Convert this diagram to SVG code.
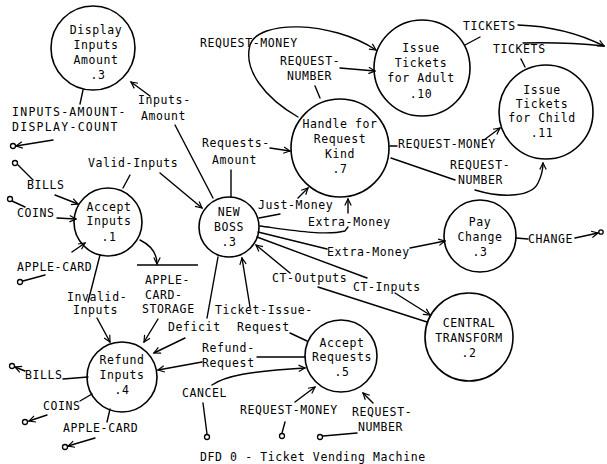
<svg xmlns="http://www.w3.org/2000/svg" width="607" height="464" viewBox="0 0 607 464">
<defs>
<style>
.n{fill:none;stroke:#000;stroke-width:1.6}
.c{fill:none;stroke:#000;stroke-width:1.4;stroke-linecap:round}
.a{marker-end:url(#arr)}
.e{fill:#fff;stroke:#000;stroke-width:1.3}
text{font-family:"DejaVu Sans Mono","Liberation Mono",monospace;font-size:11.5px;letter-spacing:0.6px;fill:#000}
.m{text-anchor:middle}
</style>
<marker id="arr" viewBox="0 0 10 10" refX="9" refY="5" markerWidth="8" markerHeight="8" orient="auto" markerUnits="userSpaceOnUse">
<path d="M1,1 L9,5 L1,9" fill="none" stroke="#000" stroke-width="1.5"/>
</marker>
</defs>
<rect width="607" height="464" fill="#fff"/>

<g id="connectors">
<path class="c" d="M83,90 L80,104"/>
<path class="c a" d="M53,140 L16,146"/>
<path class="c a" d="M150,96 L131,82"/>
<path class="c" d="M175,125 L213,198"/>
<path class="c a" d="M298,117 C265,98 243,70 250,45 C258,20 330,20 376,50"/>
<path class="c a" d="M340,68 L375,71"/>
<path class="c" d="M315,86 L320,98"/>
<path class="c" d="M465,45 L480,37"/>
<path class="c a" d="M518,25 C550,26 580,34 604,46"/>
<path class="c" d="M525,67 L521,59"/>
<path class="c" d="M523,43 C560,42 585,44 604,46"/>
<path class="c a" d="M270,148 L290,151"/>
<path class="c" d="M231,170 L231,197"/>
<path class="c" d="M123,188 L130,175"/>
<path class="c a" d="M160,173 L202,208"/>
<path class="c" d="M18,165 L33,180"/>
<path class="c a" d="M55,195 L78,204"/>
<path class="c" d="M12,201 L25,207"/>
<path class="c a" d="M57,218 L76,219"/>
<path class="c" d="M23,281 L45,275"/>
<path class="c a" d="M72,252 L85,243"/>
<path class="c" d="M390,146 L397,146"/>
<path class="c a" d="M484,140 L500,128"/>
<path class="c" d="M391,158 L455,180"/>
<path class="c a" d="M475,190 C505,199 532,196 538,183 C542,175 543,170 543,163"/>
<path class="c" d="M259,218 L280,214"/>
<path class="c a" d="M298,198 L308,188"/>
<path class="c" d="M260,226 C290,230 325,236 345,231 L348,227"/>
<path class="c a" d="M348,213 L348,199"/>
<path class="c" d="M258,232 L327,249"/>
<path class="c a" d="M410,248 L445,241"/>
<path class="c" d="M516,238 L528,239"/>
<path class="c a" d="M575,238 L598,233"/>
<path class="c a" d="M290,273 L256,245"/>
<path class="c" d="M427,322 L318,287"/>
<path class="c" d="M257,237 L367,278"/>
<path class="c a" d="M395,293 L430,315"/>
<path class="c a" d="M140,240 C150,245 157,253 157,264"/>
<path class="c" d="M100,255 L88,302"/>
<path class="c a" d="M97,318 L110,342"/>
<path class="c a" d="M158,319 L144,342"/>
<path class="c" d="M218,257 L207,318"/>
<path class="c a" d="M185,338 L154,353"/>
<path class="c a" d="M250,307 L242,258"/>
<path class="c" d="M290,333 L307,341"/>
<path class="c" d="M305,357 L257,357"/>
<path class="c a" d="M202,362 L158,370"/>
<path class="c" d="M88,377 L63,379"/>
<path class="c a" d="M25,371 L15,367"/>
<path class="c" d="M92,394 L80,401"/>
<path class="c a" d="M47,415 L29,421"/>
<path class="c" d="M110,409 L107,422"/>
<path class="c a" d="M95,438 L68,446"/>
<path class="c a" d="M212,385 C225,376 250,371 305,368"/>
<path class="c" d="M203,403 L207,434"/>
<path class="c a" d="M295,402 L315,387"/>
<path class="c" d="M285,422 L282,433"/>
<path class="c a" d="M373,403 L363,393"/>
<path class="c" d="M357,433 L323,436"/>
<circle class="e" cx="13" cy="146" r="2.5"/>
<circle class="e" cx="15" cy="163" r="2.5"/>
<circle class="e" cx="10" cy="199" r="2.5"/>
<circle class="e" cx="20" cy="282" r="2.5"/>
<circle class="e" cx="601" cy="232" r="2.2"/>
<circle class="e" cx="12" cy="366" r="2.5"/>
<circle class="e" cx="25" cy="422" r="2.5"/>
<circle class="e" cx="65" cy="447" r="2.5"/>
<circle class="e" cx="207" cy="437" r="2.5"/>
<circle class="e" cx="282" cy="436" r="2.5"/>
<circle class="e" cx="320" cy="437" r="2.5"/>
</g>

<g id="labels">
<text x="12" y="116" textLength="114" lengthAdjust="spacing">INPUTS-AMOUNT-</text>
<text x="12" y="131" textLength="106" lengthAdjust="spacing">DISPLAY-COUNT</text>
<text x="138" y="104">Inputs-</text>
<text x="141" y="120">Amount</text>
<text x="200" y="47">REQUEST-MONEY</text>
<text x="280" y="65">REQUEST-</text>
<text x="287" y="80">NUMBER</text>
<text x="463" y="30">TICKETS</text>
<text x="493" y="53">TICKETS</text>
<text x="202" y="147">Requests-</text>
<text x="212" y="164">Amount</text>
<text x="88" y="167">Valid-Inputs</text>
<text x="27" y="189">BILLS</text>
<text x="17" y="217">COINS</text>
<text x="17" y="271">APPLE-CARD</text>
<text x="398" y="148">REQUEST-MONEY</text>
<text x="450" y="169">REQUEST-</text>
<text x="458" y="184">NUMBER</text>
<text x="258" y="209">Just-Money</text>
<text x="308" y="226">Extra-Money</text>
<text x="327" y="256">Extra-Money</text>
<text x="528" y="243">CHANGE</text>
<text x="272" y="282">CT-Outputs</text>
<text x="353" y="291">CT-Inputs</text>
<text x="67" y="301">Invalid-</text>
<text x="73" y="314">Inputs</text>
<text x="168" y="331">Deficit</text>
<text x="215" y="314">Ticket-Issue-</text>
<text x="237" y="331">Request</text>
<text x="202" y="352">Refund-</text>
<text x="202" y="367">Request</text>
<text x="25" y="379">BILLS</text>
<text x="43" y="410">COINS</text>
<text x="63" y="432">APPLE-CARD</text>
<text x="182" y="397">CANCEL</text>
<text x="240" y="414">REQUEST-MONEY</text>
<text x="352" y="416">REQUEST-</text>
<text x="358" y="431">NUMBER</text>
<text x="200" y="461">DFD 0 - Ticket Vending Machine</text>
</g>

<g id="display-inputs-amount">
<circle class="n" cx="93" cy="48" r="42"/>
<text class="m" x="96" y="34">Display</text>
<text class="m" x="96" y="49">Inputs</text>
<text class="m" x="96" y="64">Amount</text>
<text class="m" x="98" y="79">.3</text>
</g>
<g id="accept-inputs">
<circle class="n" cx="108" cy="222" r="34"/>
<text class="m" x="109" y="211">Accept</text>
<text class="m" x="109" y="225">Inputs</text>
<text class="m" x="109" y="241">.1</text>
</g>
<g id="new-boss">
<circle class="n" cx="229" cy="227" r="30"/>
<text class="m" x="229" y="216">NEW</text>
<text class="m" x="229" y="231">BOSS</text>
<text class="m" x="229" y="246">.3</text>
</g>
<g id="handle-request-kind">
<circle class="n" cx="340" cy="148" r="49"/>
<text class="m" x="340" y="128">Handle for</text>
<text class="m" x="340" y="143">Request</text>
<text class="m" x="340" y="158">Kind</text>
<text class="m" x="340" y="173">.7</text>
</g>
<g id="issue-tickets-adult">
<circle class="n" cx="422" cy="68" r="48"/>
<text class="m" x="421" y="52">Issue</text>
<text class="m" x="421" y="67">Tickets</text>
<text class="m" x="421" y="82">for Adult</text>
<text class="m" x="421" y="98">.10</text>
</g>
<g id="issue-tickets-child">
<circle class="n" cx="546" cy="112" r="47"/>
<text class="m" x="542" y="94">Issue</text>
<text class="m" x="542" y="108">Tickets</text>
<text class="m" x="542" y="122">for Child</text>
<text class="m" x="542" y="137">.11</text>
</g>
<g id="pay-change">
<circle class="n" cx="480" cy="236" r="36"/>
<text class="m" x="480" y="226">Pay</text>
<text class="m" x="480" y="241">Change</text>
<text class="m" x="480" y="256">.3</text>
</g>
<g id="central-transform">
<circle class="n" cx="469" cy="337" r="44"/>
<text class="m" x="469" y="327">CENTRAL</text>
<text class="m" x="469" y="342">TRANSFORM</text>
<text class="m" x="469" y="357">.2</text>
</g>
<g id="refund-inputs">
<circle class="n" cx="122" cy="377" r="35"/>
<text class="m" x="122" y="364">Refund</text>
<text class="m" x="122" y="379">Inputs</text>
<text class="m" x="122" y="394">.4</text>
</g>
<g id="accept-requests">
<circle class="n" cx="341" cy="356" r="36"/>
<text class="m" x="342" y="347">Accept</text>
<text class="m" x="342" y="361">Requests</text>
<text class="m" x="342" y="376">.5</text>
</g>
<g id="apple-card-storage">
<path class="n" d="M137,265 L198,265"/>
<text x="145" y="284">APPLE-</text>
<text x="145" y="299">CARD-</text>
<text x="142" y="313">STORAGE</text>
</g>
</svg>
